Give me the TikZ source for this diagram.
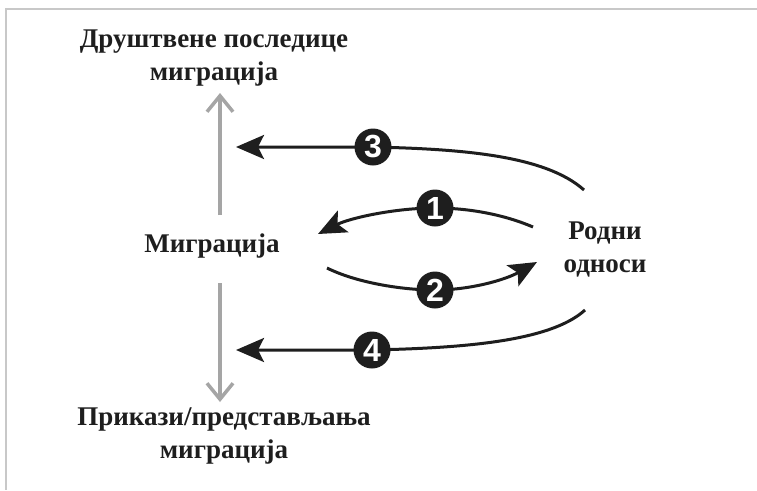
\documentclass[tikz,border=0pt]{standalone}
\usepackage{fontspec}
\setmainfont{Liberation Serif}
\newfontfamily\numfont{Liberation Sans}
\usetikzlibrary{arrows.meta}
\definecolor{frame}{RGB}{200,200,200}
\definecolor{garrow}{RGB}{165,165,165}
\definecolor{ink}{RGB}{30,30,30}
\tikzset{
  lbl/.style={font=\fontsize{27}{33}\selectfont\bfseries, text=ink, align=center, inner sep=0pt},
  grayarr/.style={draw=garrow, line width=3.5pt, -{Straight Barb[length=16pt,width=26pt,line width=3.5pt]}},
  blkarr/.style={draw=ink, line width=3pt, -{Stealth[length=28pt,width=24pt,inset=6pt]}},
  numc/.style={circle, fill=ink, minimum size=37pt, inner sep=0pt, text=white, font=\numfont\fontsize{32}{32}\selectfont\bfseries}
}
\begin{document}
\begin{tikzpicture}[x=1pt,y=-1pt]
\useasboundingbox (0,0) rectangle (757,490);
\fill[white] (0,0) rectangle (757,490);
\draw[frame, line width=1.5pt] (757,9) -- (6,9) -- (6,490);

\node[lbl] (top) at (214,58) {Друштвене последице\\миграција};
\node[lbl] (mig) at (212,246) {Миграција};
\node[lbl] (bot) at (224,436) {Прикази/представљања\\миграција};
\node[lbl] (rod) at (605,250) {Родни\\односи};

\coordinate (gu1) at (220,215);
\coordinate (gu2) at (220,93);
\coordinate (gd1) at (220,283);
\coordinate (gd2) at (220,402);
\draw[grayarr] (gu1) -- (gu2);
\draw[grayarr] (gd1) -- (gd2);

% arrow 3
\coordinate (s3) at (584,190);
\coordinate (c3) at (373,147);
\coordinate (e3) at (236,147);
\draw[blkarr] (s3) .. controls (545,155) and (460,149) .. (c3) -- (e3);
\node[numc] (n3) at (c3) {3};

% arrow 4
\coordinate (s4) at (585,310);
\coordinate (c4) at (372,350);
\coordinate (e4) at (236,350);
\draw[blkarr] (s4) .. controls (550,342) and (460,348) .. (c4) -- (e4);
\node[numc] (n4) at (c4) {4};

% arrow 1
\coordinate (s1) at (533,227);
\coordinate (c1) at (435,208);
\coordinate (e1) at (318,234);
\draw[blkarr] (s1) .. controls (505,215) and (470,208) .. (c1) .. controls (395,208) and (350,218) .. (e1);
\node[numc] (n1) at (c1) {1};

% arrow 2
\coordinate (s2) at (327,268);
\coordinate (c2) at (435,290);
\coordinate (e2) at (537,262);
\draw[blkarr] (s2) .. controls (355,282) and (400,290) .. (c2) .. controls (470,290) and (505,280) .. (e2);
\node[numc] (n2) at (c2) {2};
\end{tikzpicture}
\end{document}
